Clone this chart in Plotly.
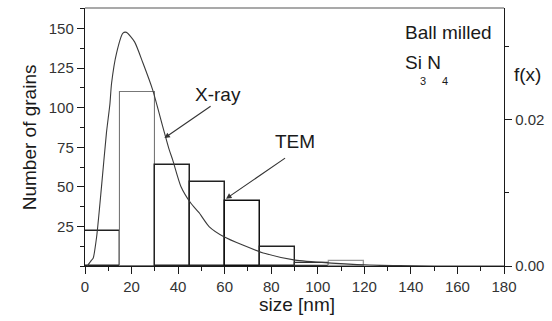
import plotly.graph_objects as go

# TEM histogram: bin edges (nm) and grain counts per bin
bin_edges = [0, 15, 30, 45, 60, 75, 90, 105, 120]
tem_counts = [22, 110, 64, 53, 41, 12, 2, 3]
bar_line_colors = ["#222", "#777", "#222", "#222", "#111", "#222", "#333", "#999"]
bar_line_widths = [1.4, 1.1, 1.5, 1.5, 1.5, 1.4, 1.3, 1.3]

# X-ray derived size distribution f(x)
xray_size = [1.0, 2.8, 3.5, 5.0, 7.1, 9.2, 10.7, 11.4, 13.5, 16.3, 17.8, 21.3, 24.9,
             29.1, 33.4, 36.2, 37.7, 41.2, 45.5, 49.0, 53.3, 59.7, 67.5, 77.5,
             90.3, 105.8, 120.0, 135.0, 150.0, 180.0]
xray_f = [0.0, 0.0008, 0.00105, 0.004, 0.0109, 0.0182, 0.0222, 0.025, 0.0291, 0.0319,
          0.032, 0.0307, 0.0278, 0.0241, 0.0191, 0.0159, 0.0145, 0.0109, 0.0086,
          0.0073, 0.0054, 0.004, 0.0029, 0.0017, 0.0008, 0.0004, 0.00015, 0.00005,
          0.0, 0.0]

x_ticks = list(range(0, 181, 20))
y_ticks = [25, 50, 75, 100, 125, 150]
y2_ticks = [0.0, 0.02]

FONT = "Liberation Sans, Arial, Helvetica, sans-serif"
INK = "#1a1a1a"

centers = [(a + b) / 2 for a, b in zip(bin_edges[:-1], bin_edges[1:])]
widths = [b - a for a, b in zip(bin_edges[:-1], bin_edges[1:])]

fig = go.Figure()

fig.add_trace(go.Bar(
    x=centers, y=tem_counts, width=widths,
    marker=dict(color="rgba(0,0,0,0)",
                line=dict(color=bar_line_colors, width=bar_line_widths)),
    showlegend=False, hoverinfo="skip",
))

fig.add_trace(go.Scatter(
    x=xray_size, y=xray_f, yaxis="y2", mode="lines",
    line=dict(color="#3a3a3a", width=1.1, shape="spline", smoothing=0.6),
    showlegend=False, hoverinfo="skip",
))

axis_common = dict(
    showgrid=False, zeroline=False, showline=True, linecolor=INK, linewidth=1.4,
    ticks="outside", tickcolor=INK, tickwidth=1.2, ticklen=7,
    tickfont=dict(family=FONT, size=15, color="#333"),
)

fig.update_layout(
    width=552, height=321,
    margin=dict(l=85, r=45, t=8, b=55),
    paper_bgcolor="white", plot_bgcolor="white",
    bargap=0,
    xaxis=dict(
        **axis_common, range=[0, 180], tickvals=x_ticks,
        minor=dict(dtick=10, tick0=0, ticklen=4, tickcolor=INK, ticks="outside"),
    ),
    yaxis=dict(
        **axis_common, range=[0, 163], tickvals=y_ticks,
        minor=dict(dtick=12.5, tick0=0, ticklen=4, tickcolor=INK, ticks="outside"),
    ),
    yaxis2=dict(
        **axis_common, range=[0, 0.03534], tickvals=y2_ticks, tickformat=".2f",
        overlaying="y", side="right",
        minor=dict(dtick=0.01, tick0=0, ticklen=4, tickcolor=INK, ticks="outside"),
    ),
)

# thin top frame line
fig.add_shape(type="line", xref="paper", yref="paper", x0=0, x1=1, y0=1, y1=1,
              line=dict(color="#555", width=1.1))

text_font = dict(family=FONT, size=19, color=INK)

# axis titles
fig.add_annotation(text="Number of grains", xref="paper", yref="paper", x=-0.133, y=0.5,
                   textangle=-90, showarrow=False, font=text_font,
                   xanchor="center", yanchor="middle")
fig.add_annotation(text="size [nm]", xref="paper", yref="paper", x=0.507, y=-0.151,
                   showarrow=False, font=text_font, xanchor="center", yanchor="middle")
fig.add_annotation(text="f(x)", xref="paper", yref="paper", x=1.057, y=0.744,
                   showarrow=False, font=text_font, xanchor="center", yanchor="middle")

# sample description
fig.add_annotation(text="Ball milled", x=136.5, y=147.6, showarrow=False,
                   font=text_font, xanchor="left", yanchor="middle")
fig.add_annotation(text="Si N", x=136.5, y=128.7, showarrow=False,
                   font=text_font, xanchor="left", yanchor="middle")
fig.add_annotation(text="3", x=145.3, y=117, showarrow=False,
                   font=dict(family=FONT, size=11, color=INK), xanchor="center", yanchor="middle")
fig.add_annotation(text="4", x=154.6, y=117, showarrow=False,
                   font=dict(family=FONT, size=11, color=INK), xanchor="center", yanchor="middle")

# labelled arrows
fig.add_annotation(text="X-ray", x=57.2, y=108.5, showarrow=False,
                   font=text_font, xanchor="center", yanchor="middle")
fig.add_annotation(x=34.1, y=80.8, ax=54.6, ay=101.6, axref="x", ayref="y",
                   showarrow=True, arrowhead=2, arrowsize=1, arrowwidth=1.1,
                   arrowcolor="#333", text="")
fig.add_annotation(text="TEM", x=90.4, y=78.9, showarrow=False,
                   font=text_font, xanchor="center", yanchor="middle")
fig.add_annotation(x=60.6, y=42.5, ax=86.6, ay=68.8, axref="x", ayref="y",
                   showarrow=True, arrowhead=2, arrowsize=1, arrowwidth=1.1,
                   arrowcolor="#333", text="")

fig.write_html("out.html")
